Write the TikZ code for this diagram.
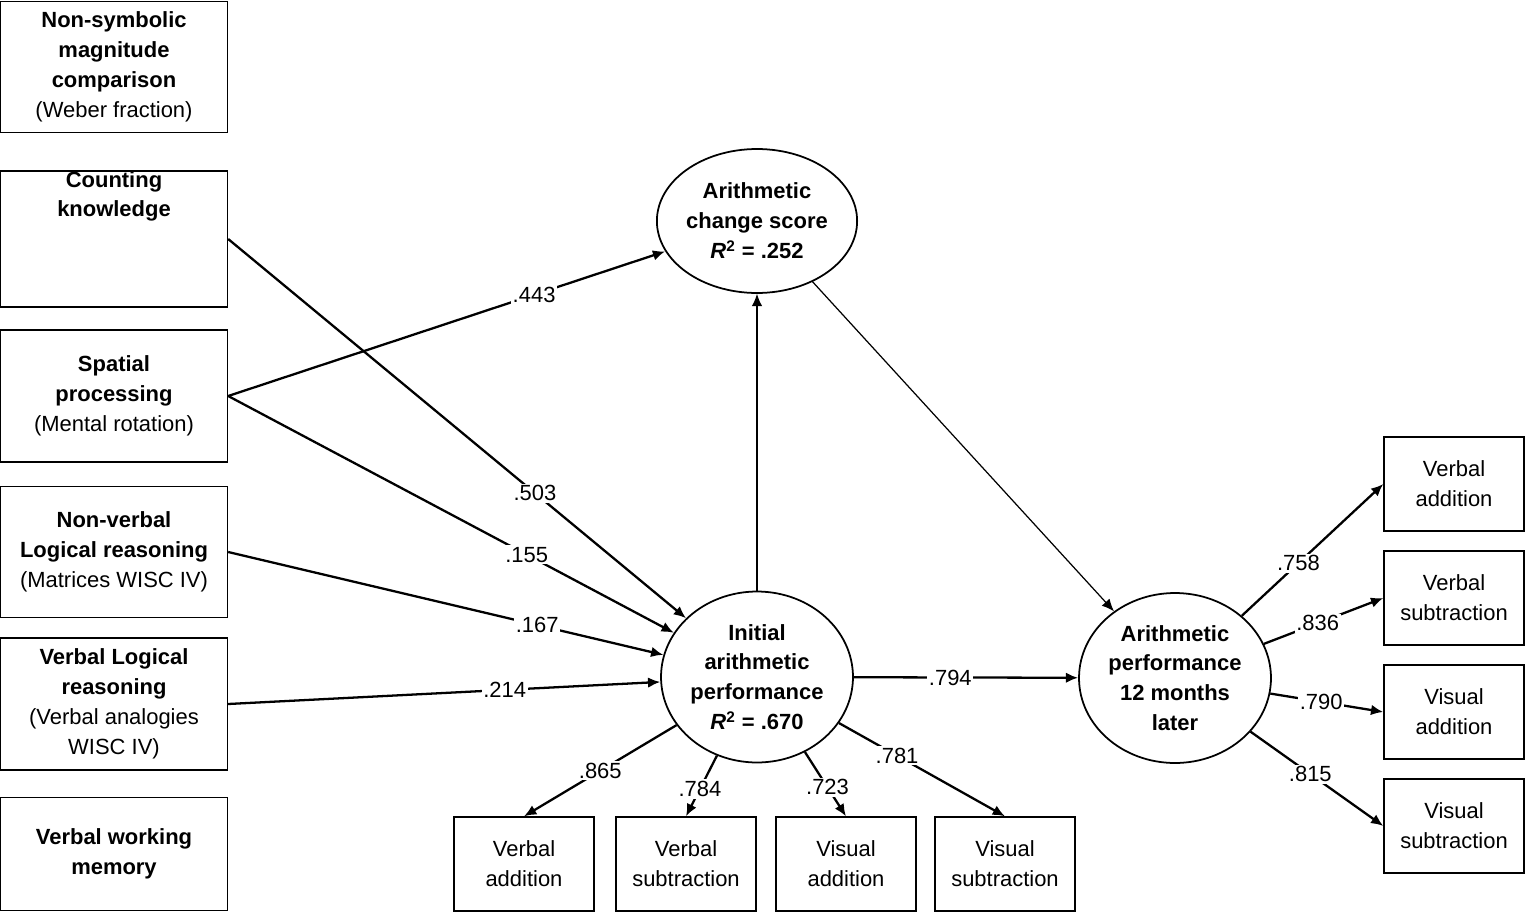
\documentclass[tikz,border=0pt]{standalone}
\usepackage{fontspec}
\setmainfont{Liberation Sans}
\usetikzlibrary{shapes.geometric,arrows.meta}
\tikzset{
  box/.style={draw,line width=0.8pt,align=center,inner sep=0pt},
  lbox/.style={box,minimum width=4.54cm},
  sbox/.style={box,minimum width=2.8cm,minimum height=1.88cm},
  latent/.style={draw,ellipse,line width=1pt,align=center,inner sep=0pt,minimum width=3.84cm},
  path/.style={line width=1.3pt,-{Latex[length=7pt,width=6pt]}},
  tpath/.style={line width=0.7pt,-{Latex[length=7pt,width=6pt]}},
  coef/.style={fill=white,inner sep=1pt}
}
\begin{document}
\begin{tikzpicture}[x=0.02cm,y=-0.02cm,font=\fontsize{12.5}{17}\selectfont]
\useasboundingbox (0,0) rectangle (1529,913);
% predictors
\node[lbox,minimum height=2.62cm] (nsm) at (114,67) {\textbf{Non-symbolic}\\\textbf{magnitude}\\\textbf{comparison}\\(Weber fraction)};
\node[lbox,minimum height=2.64cm] (count) at (114,239) {\textbf{Counting}\\\textbf{knowledge}\\[1.2cm]};
\node[lbox,minimum height=2.64cm] (spatial) at (114,396) {\textbf{Spatial}\\\textbf{processing}\\(Mental rotation)};
\node[lbox,minimum height=2.62cm] (nvlog) at (114,552) {\textbf{Non-verbal}\\\textbf{Logical reasoning}\\(Matrices WISC IV)};
\node[lbox,minimum height=2.64cm] (vlog) at (114,704) {\textbf{Verbal Logical}\\\textbf{reasoning}\\(Verbal analogies\\WISC IV)};
\node[lbox,minimum height=2.26cm] (vwm) at (114,854) {\textbf{Verbal working}\\\textbf{memory}};
% latent variables
\node[latent,minimum height=2.88cm] (change) at (757,221) {\textbf{Arithmetic}\\\textbf{change score}\\\textbf{\textit{R}\textsuperscript{2} = .252}};
\node[latent,minimum height=3.42cm] (init) at (757,677) {\textbf{Initial}\\\textbf{arithmetic}\\\textbf{performance}\\\textbf{\textit{R}\textsuperscript{2} = .670}};
\node[latent,minimum height=3.4cm] (later) at (1175,678) {\textbf{Arithmetic}\\\textbf{performance}\\\textbf{12 months}\\\textbf{later}};
% indicators
\node[sbox] (ivadd) at (524,864) {Verbal\\addition};
\node[sbox] (ivsub) at (686,864) {Verbal\\subtraction};
\node[sbox] (iviadd) at (846,864) {Visual\\addition};
\node[sbox] (ivisub) at (1005,864) {Visual\\subtraction};
\node[sbox] (lvadd) at (1454,484) {Verbal\\addition};
\node[sbox] (lvsub) at (1454,598) {Verbal\\subtraction};
\node[sbox] (lviadd) at (1454,712) {Visual\\addition};
\node[sbox] (lvisub) at (1454,826) {Visual\\subtraction};
% paths
\draw[path] (count.east) -- (init) node[coef,pos=0.67] {.503};
\draw[path] (spatial.east) -- (change) node[coef,pos=0.7] {.443};
\draw[path] (spatial.east) -- (init) node[coef,pos=0.67] {.155};
\draw[path] (nvlog.east) -- (init) node[coef,pos=0.71] {.167};
\draw[path] (vlog.east) -- (init) node[coef,pos=0.64] {.214};
\draw[tpath] (init) -- (change);
\draw[tpath] (change) -- (later);
\draw[path] (init) -- (later) node[coef,pos=0.43] {.794};
\draw[path] (init) -- (ivadd.north) node[coef,pos=0.5] {.865};
\draw[path] (init) -- (ivsub.north) node[coef,pos=0.55] {.784};
\draw[path] (init) -- (iviadd.north) node[coef,pos=0.55] {.723};
\draw[path] (init) -- (ivisub.north) node[coef,pos=0.35] {.781};
\draw[path] (later) -- (lvadd.west) node[coef,pos=0.4] {.758};
\draw[path] (later) -- (lvsub.west) node[coef,pos=0.45] {.836};
\draw[path] (later) -- (lviadd.west) node[coef,pos=0.45] {.790};
\draw[path] (later) -- (lvisub.west) node[coef,pos=0.45] {.815};
\end{tikzpicture}
\end{document}
